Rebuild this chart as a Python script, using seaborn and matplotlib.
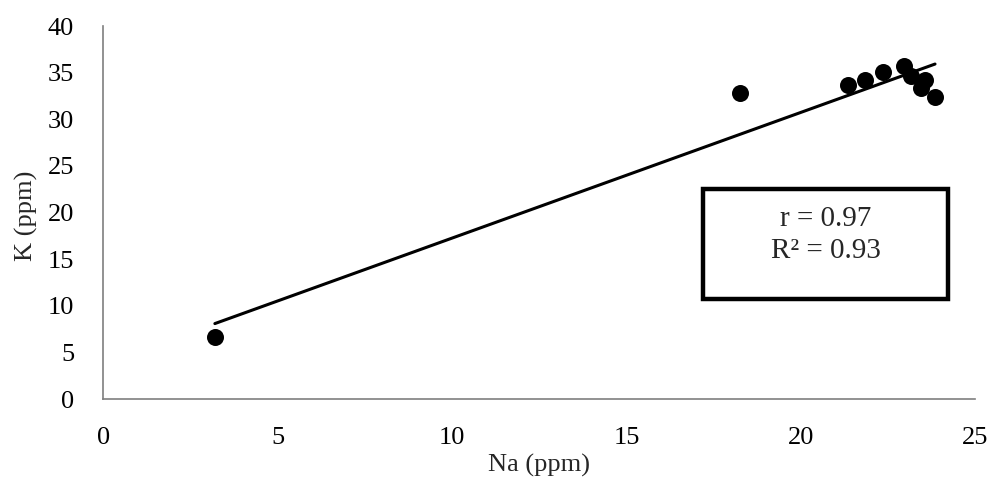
import matplotlib
matplotlib.use("Agg")
import matplotlib.pyplot as plt
import seaborn as sns
import pandas as pd
from matplotlib.patches import Rectangle

# Na vs K readings (ppm)
na = [3.2, 18.25, 21.35, 21.85, 22.35, 22.95, 23.15, 23.55, 23.45, 23.85]
k = [6.6, 32.8, 33.7, 34.2, 35.1, 35.7, 34.6, 34.2, 33.4, 32.4]
stats_text = "r = 0.97\nR\u00b2 = 0.93"

data = pd.DataFrame({"Na": na, "K": k})

sns.set_style("white")
plt.rcParams["font.family"] = ["Liberation Serif", "DejaVu Serif"]

fig = plt.figure(figsize=(9.93, 4.92), dpi=100)
ax = fig.add_axes([0.104, 0.189, 0.878, 0.758])

sns.regplot(data=data, x="Na", y="K", ax=ax, ci=None, truncate=True,
            scatter_kws={"s": 150, "color": "black", "alpha": 1, "linewidths": 0, "zorder": 3},
            line_kws={"color": "black", "linewidth": 2.2})

ax.set_xlim(0, 25)
ax.set_ylim(0, 40)
ax.set_xticks(range(0, 26, 5))
ax.set_yticks(range(0, 41, 5))
ax.tick_params(axis="both", labelsize=19, length=0, labelcolor="black")
ax.tick_params(axis="x", pad=20)
ax.tick_params(axis="y", pad=21)
for side in ["top", "right"]:
    ax.spines[side].set_visible(False)
for side in ["left", "bottom"]:
    ax.spines[side].set_color("#7f7f7f")
    ax.spines[side].set_linewidth(1.2)

ax.set_xlabel("Na (ppm)", fontsize=19, labelpad=4)
ax.set_ylabel("K (ppm)", fontsize=19)
ax.yaxis.set_label_coords(-0.075, 0.49)

# stats box
box = Rectangle((0.688, 0.268), 0.281, 0.295, transform=ax.transAxes,
                fill=False, edgecolor="black", linewidth=3.2, zorder=4)
ax.add_patch(box)
ax.text(0.8285, 0.44, stats_text, transform=ax.transAxes, ha="center", va="center",
        fontsize=21, linespacing=1.3, zorder=5)

fig.savefig("out.png", dpi=100)
